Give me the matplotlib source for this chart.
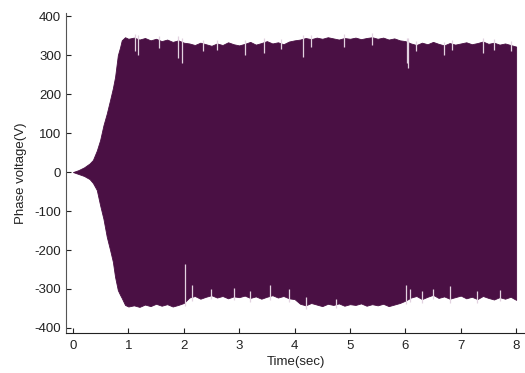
import numpy as np
import matplotlib
matplotlib.use("Agg")
import matplotlib.pyplot as plt

# ---- data (signal envelope) ----
t_env = [0, 0.1, 0.2, 0.3, 0.36, 0.43, 0.49, 0.55, 0.61, 0.67, 0.72, 0.76, 0.81, 0.85, 0.88, 0.94, 1.0,
         1.1, 1.2, 1.3, 1.4, 1.5, 1.6, 1.7, 1.8, 1.9, 2.0,
         2.1, 2.2, 2.3, 2.4, 2.5, 2.6, 2.7, 2.8, 2.9, 3.0,
         3.1, 3.2, 3.3, 3.4, 3.5, 3.6, 3.7, 3.8, 3.9, 4.0,
         4.1, 4.2, 4.3, 4.4, 4.5, 4.6, 4.7, 4.8, 4.9, 5.0,
         5.1, 5.2, 5.3, 5.4, 5.5, 5.6, 5.7, 5.8, 5.9, 6.0,
         6.1, 6.2, 6.3, 6.4, 6.5, 6.6, 6.7, 6.8, 6.9, 7.0,
         7.1, 7.2, 7.3, 7.4, 7.5, 7.6, 7.7, 7.8, 7.9, 8.0]

upper_env = [0, 5, 12, 22, 31, 55, 82, 120, 150, 185, 215, 244, 300, 320, 338, 346, 342,
             345, 340, 344, 338, 342, 336, 340, 334, 338, 332,
             330, 326, 332, 328, 324, 330, 326, 333, 328, 325,
             329, 334, 327, 331, 336, 330, 333, 328, 335, 338,
             340, 344, 341, 345, 342, 346, 343, 340, 344, 342,
             345, 341, 344, 346, 342, 345, 340, 343, 338, 336,
             330, 326, 332, 328, 334, 329, 325, 331, 327, 330,
             333, 328, 331, 335, 329, 332, 327, 330, 326, 322]

lower_env = [0, -5, -10, -18, -28, -46, -85, -120, -166, -200, -230, -269, -303, -315, -323, -341, -345,
             -342, -346, -340, -344, -338, -343, -339, -345, -341, -336,
             -322, -318, -325, -320, -316, -322, -318, -324, -319, -321,
             -317, -323, -319, -325, -320, -316, -322, -318, -324, -326,
             -338, -342, -336, -340, -344, -338, -341, -337, -343, -339,
             -341, -337, -343, -339, -342, -338, -344, -340, -336, -330,
             -322, -318, -326, -320, -315, -323, -319, -325, -321, -317,
             -324, -320, -326, -318, -323, -327, -321, -325, -320, -328]

# narrow dips of the envelope (time, value)
dip_up_t = [1.12, 1.18, 1.55, 1.90, 1.97, 2.35, 2.60, 3.10, 3.45, 3.75, 4.16, 4.30, 4.90, 5.40,
            6.03, 6.05, 6.20, 6.70, 6.85, 7.40, 7.60, 7.90]
dip_up_v = [310, 300, 318, 292, 279, 310, 312, 300, 305, 315, 295, 320, 322, 325,
            280, 266, 310, 300, 312, 305, 312, 310]
dip_lo_t = [2.02, 2.15, 2.50, 2.90, 3.20, 3.55, 3.90, 4.20, 4.75, 6.02, 6.08, 6.30, 6.50, 6.80, 7.30, 7.70]
dip_lo_v = [-236, -290, -300, -298, -305, -290, -300, -320, -325, -290, -300, -305, -300, -292, -305, -302]

x_ticks = [0, 1, 2, 3, 4, 5, 6, 7, 8]
y_ticks = [-400, -300, -200, -100, 0, 100, 200, 300, 400]

plt.rcParams['font.family'] = ['Liberation Sans', 'DejaVu Sans']
plt.rcParams['axes.unicode_minus'] = False

fig = plt.figure(figsize=(5.25, 3.73), dpi=100)
ax = fig.add_axes([0.1257, 0.1072, 0.8743, 0.8578])

fill_color = '#4a1044'
ax.fill_between(t_env, lower_env, upper_env, color=fill_color, lw=0.6, edgecolor=fill_color)

t_arr = np.array(t_env)
up_arr = np.array(upper_env)
lo_arr = np.array(lower_env)
top_at = np.interp(dip_up_t, t_arr, up_arr) + 10
bot_at = np.interp(dip_lo_t, t_arr, lo_arr) - 10
ax.vlines(dip_up_t, dip_up_v, top_at, color='#e2d2e0', lw=0.9)
ax.vlines(dip_lo_t, bot_at, dip_lo_v, color='#e2d2e0', lw=0.9)

ax.set_xlim(-0.126, 8.16)
ax.set_ylim(-413, 408)
ax.set_xticks(x_ticks)
ax.set_yticks(y_ticks)
ax.tick_params(direction='in', length=3.5, width=0.8, labelsize=9.5, colors='#222222', pad=3.5)
ax.tick_params(axis='x', pad=5)
ax.spines['top'].set_visible(False)
ax.spines['right'].set_visible(False)
ax.spines['left'].set_color('#555555')
ax.spines['bottom'].set_color('#222222')
ax.set_xlabel('Time(sec)', fontsize=9.5, color='#222222', labelpad=3)
ax.set_ylabel('Phase voltage(V)', fontsize=9.5, color='#222222', labelpad=5)

fig.savefig('out.png', dpi=100)
